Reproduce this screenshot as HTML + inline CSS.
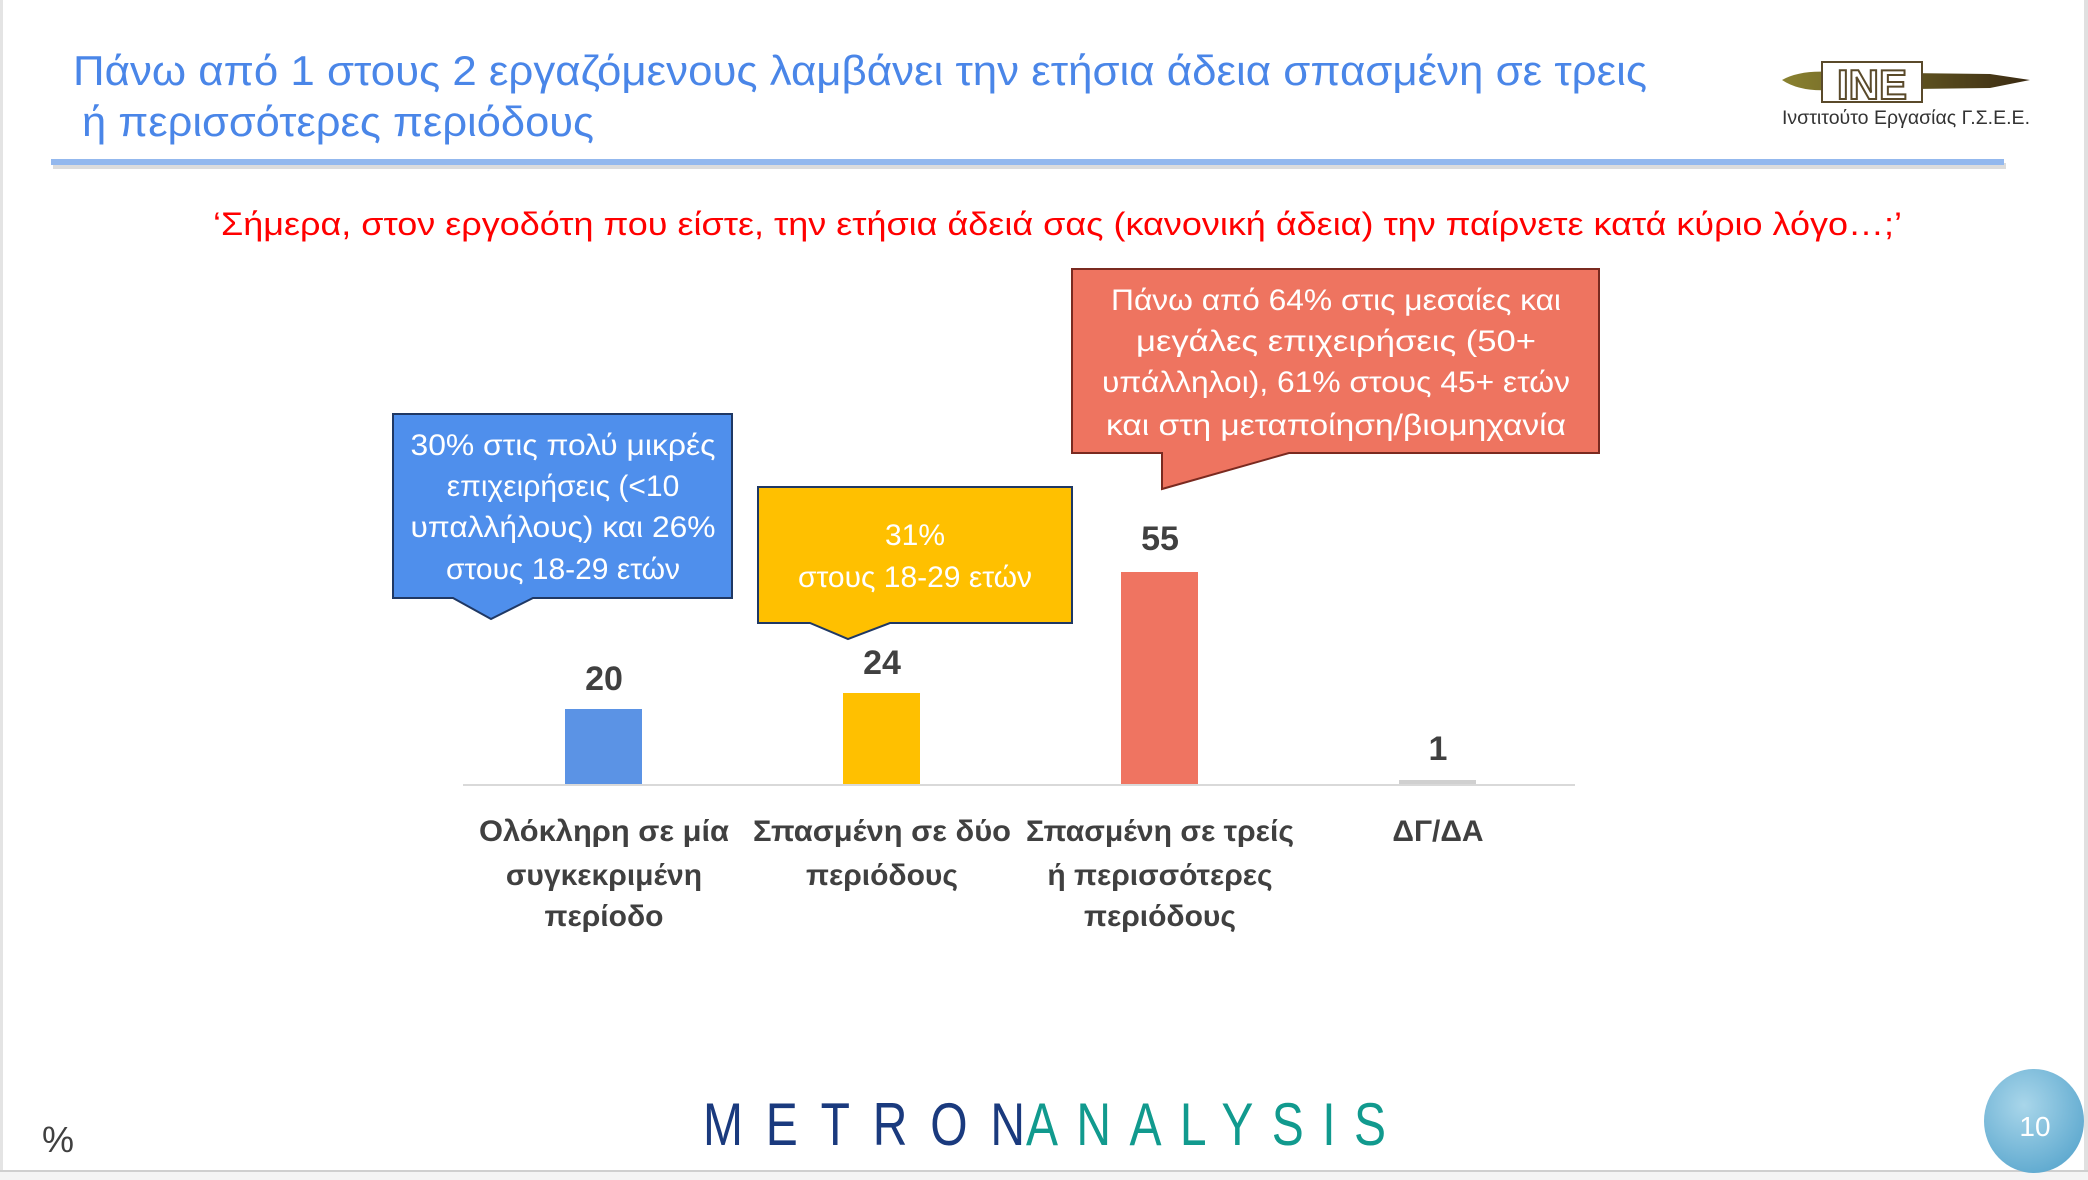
<!DOCTYPE html>
<html><head><meta charset="utf-8"><style>
html,body{margin:0;padding:0;background:#fff;}
svg{display:block;}
text{font-family:"Liberation Sans","DejaVu Sans",sans-serif;}
</style></head><body>
<svg width="2088" height="1180" viewBox="0 0 2088 1180" xmlns="http://www.w3.org/2000/svg">
<defs>
<linearGradient id="pen" x1="0" x2="1" y1="0" y2="0"><stop offset="0" stop-color="#8a8230"/><stop offset="1" stop-color="#3a2a12"/></linearGradient>
<radialGradient id="circ" cx="0.4" cy="0.35" r="0.7"><stop offset="0" stop-color="#a9d6ea"/><stop offset="1" stop-color="#5ea9cf"/></radialGradient>
</defs>
<rect x="0" y="0" width="2088" height="1180" fill="#fff"/>
<rect x="0" y="0" width="3" height="1180" fill="#e4e4e4"/>
<rect x="2084" y="0" width="4" height="1180" fill="#e0e0e0"/>
<rect x="0" y="1171" width="2088" height="9" fill="#f4f4f4"/>
<rect x="0" y="1170" width="2088" height="2" fill="#cfcfcf"/>

<!-- title -->
<text x="73" y="85" font-size="42" fill="#4a86e8" textLength="1574" lengthAdjust="spacingAndGlyphs">Πάνω από 1 στους 2 εργαζόμενους λαμβάνει την ετήσια άδεια σπασμένη σε τρεις</text>
<text x="82" y="136" font-size="42" fill="#4a86e8" textLength="512" lengthAdjust="spacingAndGlyphs">ή περισσότερες περιόδους</text>
<rect x="53" y="163" width="1953" height="6" fill="#dcdcdc"/>
<rect x="51" y="159" width="1953" height="6" fill="#93b8ee"/>

<!-- logo -->
<path d="M1782 80 Q1800 70 1830 72 L1990 74 L2030 80 L1990 88 L1830 90 Q1800 92 1782 80 Z" fill="url(#pen)"/>
<rect x="1822" y="62" width="100" height="40" fill="#fff" stroke="#5a4a2a" stroke-width="2"/>
<text x="1872" y="99" font-size="42" font-weight="bold" fill="#fff" stroke="#5a4a2a" stroke-width="2" text-anchor="middle" font-family="Liberation Serif,serif">INE</text>
<text x="1782" y="124" font-size="19" fill="#333" textLength="248" lengthAdjust="spacingAndGlyphs">Ινστιτούτο Εργασίας Γ.Σ.Ε.Ε.</text>

<!-- question -->
<text x="213" y="235" font-size="32" fill="#ff0000" textLength="1689" lengthAdjust="spacingAndGlyphs">‘Σήμερα, στον εργοδότη που είστε, την ετήσια άδειά σας (κανονική άδεια) την παίρνετε κατά κύριο λόγο…;’</text>

<!-- bars -->
<rect x="565" y="709" width="77" height="75" fill="#5b93e5"/>
<rect x="843" y="693" width="77" height="91" fill="#ffc000"/>
<rect x="1121" y="572" width="77" height="212" fill="#ef7461"/>
<rect x="1399" y="780" width="77" height="4" fill="#d0d0d0"/>
<rect x="463" y="784" width="1112" height="2" fill="#d9d9d9"/>

<g font-size="34" font-weight="bold" fill="#404040" text-anchor="middle">
<text x="604" y="690">20</text>
<text x="882" y="674">24</text>
<text x="1160" y="550">55</text>
<text x="1438" y="760">1</text>
</g>
<g font-size="30" font-weight="bold" fill="#404040" text-anchor="middle">
<text x="604" y="841" textLength="250" lengthAdjust="spacingAndGlyphs">Ολόκληρη σε μία</text>
<text x="604" y="885">συγκεκριμένη</text>
<text x="604" y="926">περίοδο</text>
<text x="882" y="841" textLength="258" lengthAdjust="spacingAndGlyphs">Σπασμένη σε δύο</text>
<text x="882" y="885">περιόδους</text>
<text x="1160" y="841" textLength="268" lengthAdjust="spacingAndGlyphs">Σπασμένη σε τρείς</text>
<text x="1160" y="885">ή περισσότερες</text>
<text x="1160" y="926">περιόδους</text>
<text x="1438" y="841">ΔΓ/ΔΑ</text>
</g>

<!-- callouts -->
<path d="M393 414 H732 V598 H533 L491 619 L453 598 H393 Z" fill="#4f8fec" stroke="#1f3864" stroke-width="2"/>
<g font-size="30" fill="#fff" text-anchor="middle">
<text x="563" y="455" textLength="305" lengthAdjust="spacingAndGlyphs">30% στις πολύ μικρές</text>
<text x="563" y="496">επιχειρήσεις (&lt;10</text>
<text x="563" y="537" textLength="305" lengthAdjust="spacingAndGlyphs">υπαλλήλους) και 26%</text>
<text x="563" y="579">στους 18-29 ετών</text>
</g>
<path d="M758 487 H1072 V623 H890 L848 639 L810 623 H758 Z" fill="#ffc000" stroke="#1f3864" stroke-width="2"/>
<g font-size="30" fill="#fff" text-anchor="middle">
<text x="915" y="545">31%</text>
<text x="915" y="587">στους 18-29 ετών</text>
</g>
<path d="M1072 269 H1599 V453 H1289 L1162 489 L1162 453 H1072 Z" fill="#ee7460" stroke="#7a2a20" stroke-width="2"/>
<g font-size="30" fill="#fff" text-anchor="middle">
<text x="1336" y="310" textLength="450" lengthAdjust="spacingAndGlyphs">Πάνω από 64% στις μεσαίες και</text>
<text x="1336" y="351" textLength="400" lengthAdjust="spacingAndGlyphs">μεγάλες επιχειρήσεις (50+</text>
<text x="1336" y="392" textLength="468" lengthAdjust="spacingAndGlyphs">υπάλληλοι), 61% στους 45+ ετών</text>
<text x="1336" y="435" textLength="460" lengthAdjust="spacingAndGlyphs">και στη μεταποίηση/βιομηχανία</text>
</g>

<!-- footer -->
<text x="42" y="1152" font-size="36" fill="#404040">%</text>
<g transform="translate(0,1145) scale(1,1.25)">
<text x="703" y="0" font-size="48" fill="#1a3a7e" textLength="322" lengthAdjust="spacing">METRON</text>
<text x="1026" y="0" font-size="48" fill="#119a8e" textLength="360" lengthAdjust="spacing">ANALYSIS</text>
</g>
<ellipse cx="2034" cy="1121" rx="50" ry="52" fill="url(#circ)"/>
<text x="2035" y="1136" font-size="28" fill="#fff" text-anchor="middle">10</text>
</svg>
</body></html>
